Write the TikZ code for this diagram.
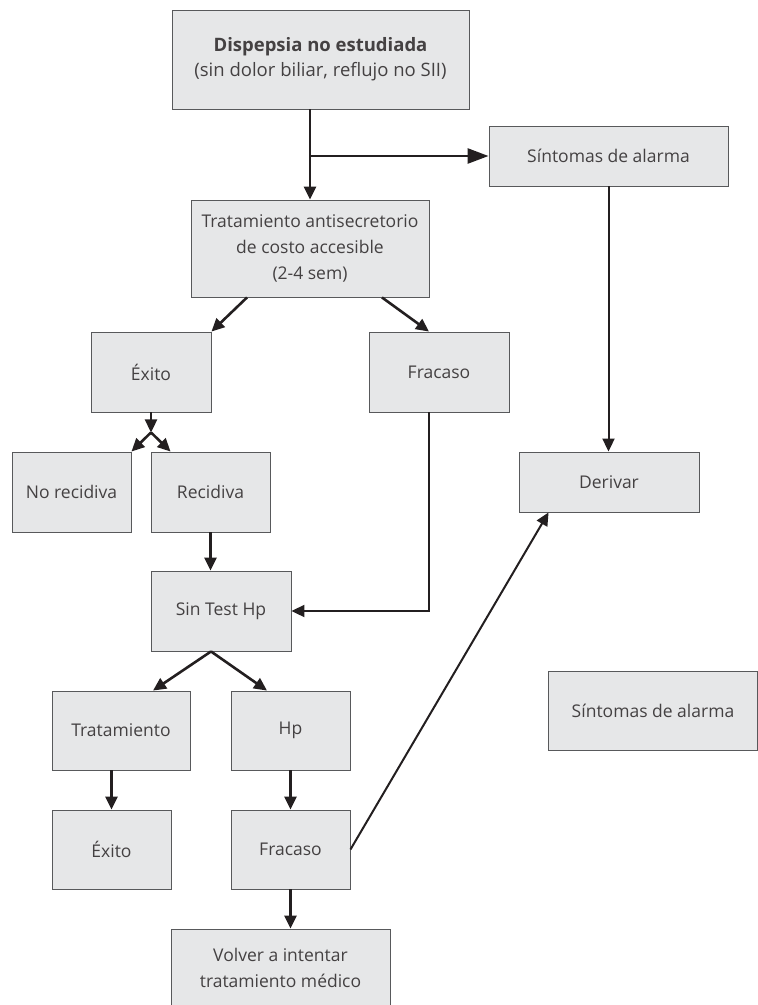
\documentclass[tikz,border=0pt]{standalone}
\usepackage{fontspec}
\setmainfont{Open Sans}
\usetikzlibrary{arrows.meta,calc}
\definecolor{boxfill}{HTML}{E6E7E8}
\definecolor{boxline}{HTML}{58595B}
\definecolor{ink}{HTML}{231F20}
\tikzset{
  box/.style={draw=boxline, line width=0.9pt, fill=boxfill, rectangle, inner sep=0pt,
    align=center, text=ink!85, font=\fontsize{17.5}{26}\selectfont},
  arr/.style={draw=ink, line width=2.6pt, -{Triangle[length=13pt,width=12pt]}},
  arrlong/.style={draw=ink, line width=2.6pt, -{Triangle[length=21pt,width=15pt]}},
  thinarr/.style={draw=ink, line width=2pt, -{Triangle[length=13pt,width=12pt]}}
}
\begin{document}
\begin{tikzpicture}[x=1pt,y=-1pt]
\useasboundingbox (0,0) rectangle (758,1005);
% boxes (centre, width, height)
\node[box, minimum width=297pt, minimum height=99pt, font=\fontsize{18.5}{25}\selectfont] (disp) at (320.5,59.5)
  {\textbf{Dispepsia no estudiada}\\(sin dolor biliar, reflujo no SII)};
\node[box, minimum width=239pt, minimum height=60pt] (sint1) at (608.5,156) {Síntomas de alarma};
\node[box, minimum width=238pt, minimum height=97pt] (trat) at (310,248.5)
  {Tratamiento antisecretorio\\de costo accesible\\(2-4 sem)};
\node[box, minimum width=120pt, minimum height=80pt] (exito1) at (151,372) {Éxito};
\node[box, minimum width=140pt, minimum height=80pt] (fracaso1) at (439,372) {Fracaso};
\node[box, minimum width=119pt, minimum height=80pt] (norec) at (71.5,492) {No recidiva};
\node[box, minimum width=119pt, minimum height=80pt] (recid) at (210.5,492) {Recidiva};
\node[box, minimum width=180pt, minimum height=60pt] (derivar) at (609,482) {Derivar};
\node[box, minimum width=140pt, minimum height=80pt] (sintest) at (221,611) {Sin Test Hp};
\node[box, minimum width=209pt, minimum height=79pt] (sint2) at (653,710.5) {Síntomas de alarma};
\node[box, minimum width=138pt, minimum height=79pt] (trat2) at (121,730.5) {Tratamiento};
\node[box, minimum width=119pt, minimum height=79pt] (hp) at (290.5,730.5) {Hp};
\node[box, minimum width=119pt, minimum height=79pt] (exito2) at (111.5,849.5) {Éxito};
\node[box, minimum width=119pt, minimum height=79pt] (fracaso2) at (290.5,849.5) {Fracaso};
\node[box, minimum width=219pt, minimum height=78pt] (volver) at (280.5,968)
  {Volver a intentar\\tratamiento médico};
% connectors
\draw[arr] (disp.south -| trat.north) -- (trat.north);
\draw[arrlong] (trat.north |- sint1.west) -- (sint1.west);
\draw[thinarr] (sint1.south) -- (sint1.south |- derivar.north);
\draw[arr] ([xshift=-63pt]trat.south) -- (exito1.north east);
\draw[arr] ([xshift=72pt]trat.south) -- ([xshift=-10pt]fracaso1.north);
\coordinate (s1) at ($(exito1.south)+(0,20)$);
\draw[arr] (exito1.south) -- (s1);
\draw[arr] (s1) -- (norec.north east);
\draw[arr] (s1) -- ([xshift=20pt]recid.north west);
\draw[arr] (recid.south) -- (recid.south |- sintest.north);
\draw[thinarr] ([xshift=-10pt]fracaso1.south) |- (sintest.east);
\draw[arr] ([xshift=-10pt]sintest.south) -- ([xshift=32pt]trat2.north);
\draw[arr] ([xshift=-10pt]sintest.south) -- ([xshift=-23.5pt]hp.north);
\draw[arr] (exito2.north |- trat2.south) -- (exito2.north);
\draw[arr] (hp.south) -- (fracaso2.north);
\draw[arr] (fracaso2.south) -- (fracaso2.south |- volver.north);
\draw[thinarr] (fracaso2.east) -- ([xshift=30pt]derivar.south west);
\end{tikzpicture}
\end{document}
